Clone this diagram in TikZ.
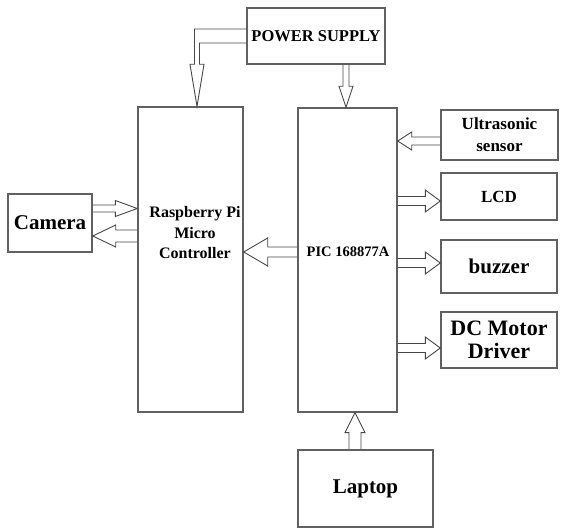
\documentclass[tikz,border=0pt]{standalone}
\usepackage{fontspec}
\setmainfont{Liberation Serif}
\newfontfamily\serf{Liberation Serif}
\usetikzlibrary{calc}
\newcommand\blockarrow[5]{%
  \coordinate (bab) at ($(#2)!#5!(#1)$);
  \draw[barrow] ($(#1)!#3!90:(#2)$) -- ($(bab)!#3!-90:(#1)$) -- ($(bab)!#4!-90:(#1)$) -- (#2) -- ($(bab)!#4!90:(#1)$) -- ($(bab)!#3!90:(#1)$) -- ($(#1)!#3!-90:(#2)$);}
\begin{document}
\begin{tikzpicture}[x=1pt,y=-1pt,
  box/.style={draw=black!62, line width=1.4pt, inner sep=0pt, align=center},
  lbl/.style={inner sep=0pt, align=center},
  barrow/.style={draw=black!72, line width=0.9pt, line join=miter}]
\useasboundingbox[fill=white] (0,0) rectangle (563,529);

\node[box, minimum width=138pt, minimum height=56pt, font=\serf\bfseries\fontsize{16.5}{20}\selectfont] (ps) at (316,36) {POWER SUPPLY};
\node[box, minimum width=105pt, minimum height=305pt] (rpi) at (190.5,259.5) {};
\node[lbl, font=\serf\bfseries\fontsize{16}{20.5}\selectfont] (rpit) at (195,233) {Raspberry Pi\\Micro\\Controller};
\node[box, minimum width=99pt, minimum height=304pt] (pic) at (347.5,260) {};
\node[lbl, font=\serf\bfseries\fontsize{14.5}{17}\selectfont] (pict) at (348,252) {PIC 168877A};
\node[box, minimum width=84pt, minimum height=58pt, font=\serf\bfseries\fontsize{21}{24}\selectfont] (cam) at (50,223) {Camera};
\node[box, minimum width=117pt, minimum height=50pt, font=\serf\bfseries\fontsize{17}{22}\selectfont] (us) at (499.5,135) {Ultrasonic\\sensor};
\node[box, minimum width=116pt, minimum height=47pt, font=\serf\bfseries\fontsize{17}{20}\selectfont] (lcd) at (499,196.5) {LCD};
\node[box, minimum width=116pt, minimum height=53pt, font=\serf\bfseries\fontsize{21}{24}\selectfont] (buz) at (499,266.5) {buzzer};
\node[box, minimum width=116pt, minimum height=56pt, font=\serf\bfseries\fontsize{22}{23}\selectfont] (dc) at (499,340) {DC Motor\\Driver};
\node[box, minimum width=135pt, minimum height=77pt, font=\serf\bfseries\fontsize{21}{24}\selectfont] (lap) at (365.5,488.5) {Laptop};

% power supply to raspberry pi (bent arrow)
\coordinate (tipL) at (rpi.north -| 197,0);
\draw[barrow] ([yshift=7pt]ps.west) -| ([xshift=-2.5pt,yshift=42pt]tipL) -- ([xshift=-7pt,yshift=42pt]tipL) -- (tipL) -- ([xshift=7pt,yshift=42pt]tipL) -- ([xshift=2.5pt,yshift=42pt]tipL) |- ([yshift=-7pt]ps.west);

% power supply to PIC
\coordinate (p1s) at (ps.south -| 346,0);
\coordinate (p1e) at (pic.north -| 346,0);
\blockarrow{p1s}{p1e}{3pt}{7pt}{21pt}

% camera arrows
\coordinate (c1s) at (cam.east |- 0,208.5);
\coordinate (c1e) at (rpi.west |- 0,208.5);
\blockarrow{c1s}{c1e}{3.5pt}{8pt}{22pt}
\coordinate (c2s) at (rpi.west |- 0,236);
\coordinate (c2e) at (cam.east |- 0,236);
\blockarrow{c2s}{c2e}{6pt}{11pt}{23pt}

% PIC to raspberry pi
\coordinate (r1s) at (pic.west |- 0,252);
\coordinate (r1e) at (rpi.east |- 0,252);
\blockarrow{r1s}{r1e}{5pt}{14pt}{24pt}

% right side
\coordinate (u1s) at (us.west |- 0,141);
\coordinate (u1e) at (pic.east |- 0,141);
\blockarrow{u1s}{u1e}{4pt}{9pt}{14pt}
\coordinate (l1s) at (pic.east |- 0,201);
\coordinate (l1e) at (lcd.west |- 0,201);
\blockarrow{l1s}{l1e}{4.5pt}{11pt}{15pt}
\coordinate (b1s) at (pic.east |- 0,263);
\coordinate (b1e) at (buz.west |- 0,263);
\blockarrow{b1s}{b1e}{4.5pt}{11pt}{15pt}
\coordinate (d1s) at (pic.east |- 0,348);
\coordinate (d1e) at (dc.west |- 0,348);
\blockarrow{d1s}{d1e}{4.5pt}{11pt}{15pt}

% laptop to PIC
\coordinate (t1s) at (lap.north -| 355,0);
\coordinate (t1e) at (pic.south -| 355,0);
\blockarrow{t1s}{t1e}{6pt}{10pt}{20pt}
\end{tikzpicture}
\end{document}
